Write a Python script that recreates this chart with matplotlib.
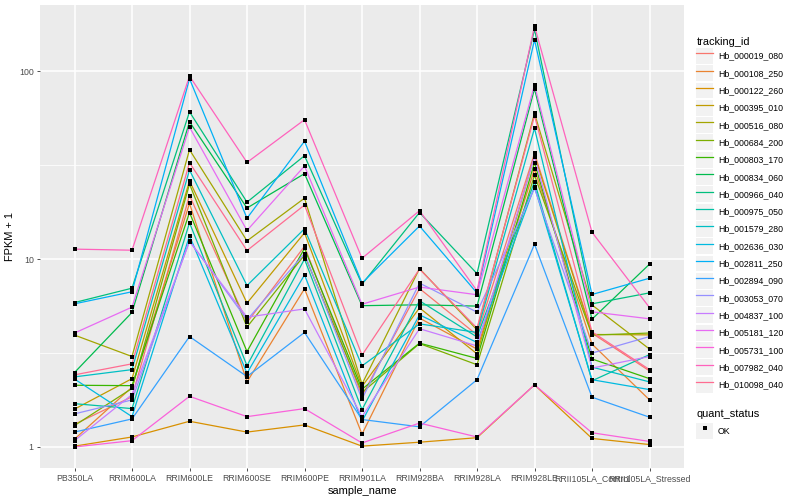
import numpy as np
import matplotlib.pyplot as plt
from matplotlib.lines import Line2D
from matplotlib.patches import Patch
from matplotlib.legend_handler import HandlerTuple

plt.rcParams["font.family"] = ["Liberation Sans", "DejaVu Sans"]

samples = ["PB350LA", "RRIM600LA", "RRIM600LE", "RRIM600SE", "RRIM600PE", "RRIM901LA",
           "RRIM928BA", "RRIM928LA", "RRIM928LE", "RRII105LA_Control", "RRII105LA_Stressed"]

tracking_ids = ["Hb_000019_080", "Hb_000108_250", "Hb_000122_260", "Hb_000395_010",
                "Hb_000516_080", "Hb_000684_200", "Hb_000803_170", "Hb_000834_060",
                "Hb_000966_040", "Hb_000975_050", "Hb_001579_280", "Hb_002636_030",
                "Hb_002811_250", "Hb_002894_090", "Hb_003053_070", "Hb_004837_100",
                "Hb_005181_120", "Hb_005731_100", "Hb_007982_040", "Hb_010098_040"]

# ggplot default hue palette for 20 groups
colors = ["#F8766D", "#EA8331", "#D89000", "#C09B00", "#A3A500", "#7CAE00", "#39B600",
          "#00BB4E", "#00BF7D", "#00C1A3", "#00BFC4", "#00BAE0", "#00B0F6", "#35A2FF",
          "#9590FF", "#C77CFF", "#E76BF3", "#FA62DB", "#FF62BC", "#FF6C91"]

# FPKM + 1, one value per sample
hb_000019_080 = [1.32, 1.85, 21.8, 4.6, 11.7, 1.87, 6.97, 3.95, 36.6, 4.03, 2.54]
hb_000108_250 = [1.10, 2.08, 19.8, 2.22, 6.95, 1.17, 4.85, 3.32, 30.1, 3.53, 1.78]
hb_000122_260 = [1.01, 1.13, 1.37, 1.20, 1.31, 1.01, 1.06, 1.12, 2.14, 1.11, 1.03]
hb_000395_010 = [1.59, 2.31, 26.1, 5.83, 13.8, 2.10, 5.5, 3.13, 35.6, 3.97, 3.95]
hb_000516_080 = [3.94, 3.03, 38.2, 12.5, 21.1, 2.16, 8.9, 4.20, 59.7, 5.70, 3.32]
hb_000684_200 = [1.30, 2.05, 25.1, 4.35, 10.5, 1.95, 3.55, 2.74, 28.0, 3.94, 4.04]
hb_000803_170 = [2.13, 2.12, 17.7, 3.22, 11.4, 2.03, 3.57, 2.96, 32.6, 2.94, 2.31]
hb_000834_060 = [2.49, 5.2, 53.8, 18.7, 28.5, 5.65, 5.71, 5.62, 80.6, 4.79, 9.4]
hb_000966_040 = [5.87, 7.0, 60.8, 20.1, 35.5, 7.35, 17.7, 8.37, 167, 5.78, 6.61]
hb_000975_050 = [1.70, 1.60, 15.6, 2.71, 10.0, 1.58, 6.0, 3.85, 25.8, 2.25, 3.10]
hb_001579_280 = [2.36, 2.58, 29.8, 7.23, 14.5, 2.70, 4.52, 4.07, 49.7, 2.66, 2.22]
hb_002636_030 = [2.30, 1.45, 13.3, 2.47, 8.24, 1.37, 5.05, 3.60, 24.3, 2.28, 2.02]
hb_002811_250 = [5.78, 6.7, 91.2, 16.5, 42.4, 7.45, 15.0, 6.6, 147, 6.48, 7.91]
hb_002894_090 = [1.20, 1.41, 3.87, 2.37, 4.07, 1.40, 1.28, 2.28, 12.0, 1.84, 1.44]
hb_003053_070 = [1.50, 1.78, 12.5, 4.75, 10.7, 1.80, 7.45, 5.22, 23.8, 3.16, 3.87]
hb_004837_100 = [1.08, 1.90, 12.4, 4.91, 5.43, 1.45, 4.26, 3.45, 35.1, 2.63, 3.03]
hb_005181_120 = [4.04, 5.55, 50.4, 14.2, 31.3, 5.75, 7.1, 6.46, 84.4, 5.24, 4.81]
hb_005731_100 = [1.00, 1.08, 1.86, 1.45, 1.60, 1.05, 1.34, 1.13, 2.14, 1.19, 1.07]
hb_007982_040 = [11.3, 11.15, 94.2, 32.7, 55.2, 10.1, 18.1, 6.78, 174, 13.9, 5.52]
hb_010098_040 = [2.42, 2.77, 32.6, 11.1, 19.4, 3.08, 8.85, 4.29, 58.0, 4.10, 2.58]

fpkm = [hb_000019_080, hb_000108_250, hb_000122_260, hb_000395_010, hb_000516_080,
        hb_000684_200, hb_000803_170, hb_000834_060, hb_000966_040, hb_000975_050,
        hb_001579_280, hb_002636_030, hb_002811_250, hb_002894_090, hb_003053_070,
        hb_004837_100, hb_005181_120, hb_005731_100, hb_007982_040, hb_010098_040]

fig = plt.figure(figsize=(8, 5), dpi=100)
ax = fig.add_axes([0.05, 0.064, 0.805, 0.926])
ax.set_facecolor("#EBEBEB")
for s in ax.spines.values():
    s.set_visible(False)

x = np.arange(len(samples))
for vals, c in zip(fpkm, colors):
    ax.plot(x, vals, color=c, lw=0.9, zorder=3)
for vals in fpkm:
    ax.plot(x, vals, "s", color="black", ms=2.7, mew=0, zorder=4)

ax.set_yscale("log")
allv = np.log10(np.concatenate(fpkm))
pad = (allv.max() - allv.min()) * 0.05
ax.set_ylim(10 ** (allv.min() - pad), 10 ** (allv.max() + pad))
ax.set_xlim(-0.6, len(samples) - 0.4)

ax.set_yticks([1, 10, 100])
ax.set_yticklabels(["1", "10", "100"])
ax.set_yticks([10 ** 0.5, 10 ** 1.5], minor=True)
ax.set_yticklabels([], minor=True)
ax.set_xticks(x)
ax.set_xticklabels(samples)

ax.grid(which="major", color="white", lw=1.1, zorder=0)
ax.grid(which="minor", axis="y", color="white", lw=0.55, zorder=0)
ax.set_axisbelow(True)
ax.tick_params(which="major", length=2.5, width=0.6, color="#333333",
               labelcolor="#4D4D4D", labelsize=6.34, pad=2)
ax.tick_params(which="minor", length=0)

ax.set_xlabel("sample_name", fontsize=7.92, labelpad=2)
ax.set_ylabel("FPKM + 1", fontsize=7.92, labelpad=3)

key_bg = "#F2F2F2"
handles = [(Patch(facecolor=key_bg, edgecolor="none"), Line2D([], [], color=c, lw=0.9))
           for c in colors]
leg1 = fig.legend(handles, tracking_ids, title="tracking_id", loc="upper left",
                  bbox_to_anchor=(0.866, 0.934), frameon=False, fontsize=6.34,
                  title_fontsize=7.92, handlelength=1.95, handleheight=2.4,
                  handletextpad=0.5, labelspacing=0.16, borderaxespad=0,
                  handler_map={tuple: HandlerTuple(ndivide=1)})
leg1._legend_box.align = "left"

ok_handle = (Patch(facecolor=key_bg, edgecolor="none"),
             Line2D([], [], marker="s", color="black", ms=2.7, lw=0, mew=0))
leg2 = fig.legend([ok_handle], ["OK"], title="quant_status", loc="upper left",
                  bbox_to_anchor=(0.866, 0.19), frameon=False, fontsize=6.34,
                  title_fontsize=7.92, handlelength=1.95, handleheight=2.4,
                  handletextpad=0.5, borderaxespad=0,
                  handler_map={tuple: HandlerTuple(ndivide=1)})
leg2._legend_box.align = "left"

fig.savefig("out.png", dpi=100)
